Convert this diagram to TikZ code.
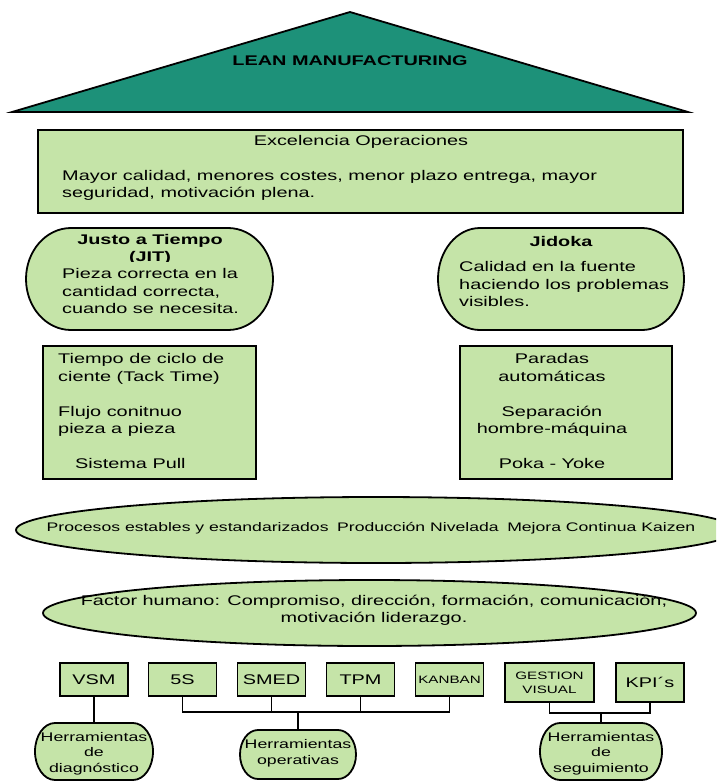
\documentclass[tikz,border=0pt]{standalone}
\usepackage{fontspec}
\setmainfont{Liberation Sans}[FakeStretch=1.42]
\usetikzlibrary{shapes.geometric}
\definecolor{leaf}{RGB}{197,228,168}
\definecolor{roofteal}{RGB}{29,145,121}
\newcommand{\pillnode}[6]{%
  \filldraw[shp] ({#2+#6},#3) -- ({#4-#6},#3)
    arc[start angle=-90,end angle=90,x radius=#6,y radius={(#5-#3)/2}]
    -- ({#2+#6},#5)
    arc[start angle=90,end angle=270,x radius=#6,y radius={(#5-#3)/2}] -- cycle;
  \node[minimum width={#4-#2}, minimum height={#5-#3}] (#1) at ({(#2+#4)/2},{(#3+#5)/2}) {};
}
\begin{document}
\begin{tikzpicture}[x=1pt,y=-1pt,
  every node/.style={inner sep=0pt},
  shp/.style={draw=black, line width=1.8pt, fill=leaf},
  conn/.style={draw=black, line width=1.8pt},
  t14/.style={font=\fontsize{14}{17.5}\selectfont},
  t14b/.style={font=\fontsize{14}{17.5}\selectfont\bfseries},
  t12/.style={font=\fontsize{12.5}{15.5}\selectfont, align=center},
  t10/.style={font=\fontsize{10.7}{14}\selectfont, align=center},
  gbox/.style={shp, minimum width=68, minimum height=33, font=\fontsize{14}{17}\selectfont}]
\clip (0,0) rectangle (716,782);
\fill[white] (0,0) rectangle (716,782);

% roof
\filldraw[fill=roofteal, draw=black, line width=1.8pt] (12,112) -- (350,12) -- (688,112) -- cycle;
\node[t14b] (lean) at (350,61) {LEAN MANUFACTURING};

% excellence box
\node[shp, minimum width=645, minimum height=83] (exc) at (360.5,171.5) {};
\node[t14] (exct) at (361,142) {Excelencia Operaciones};
\node[t14, align=left, anchor=west] (excb) at (62,185.5) {Mayor calidad, menores costes, menor plazo entrega, mayor\\seguridad, motivación plena.};

% pillars heads
\pillnode{jit}{26}{228}{273}{330}{45}
\pillnode{jid}{438}{228}{684}{330}{42}
\node[t14b] (jitt) at (150,241) {Justo a Tiempo};
\begin{scope}
\clip (26,228) rectangle (273,261.5);
\node[t14b] (jita) at (150,258) {(JIT)};
\end{scope}
\node[t14, align=left, anchor=west] (jitb) at (62,291) {Pieza correcta en la\\cantidad correcta,\\cuando se necesita.};
\node[t14b] (jidt) at (561,241) {Jidoka};
\node[t14, align=left, anchor=west] (jidb) at (459,284) {Calidad en la fuente\\haciendo los problemas\\visibles.};

% pillars bodies
\node[shp, minimum width=213, minimum height=133] (jitbox) at (149.5,412.5) {};
\node[shp, minimum width=212, minimum height=133] (jidbox) at (566,412.5) {};
\node[t14, align=left, anchor=west] (jitl) at (58,411) {Tiempo de ciclo de\\ciente (Tack Time)\\[17.5pt]Flujo conitnuo\\pieza a pieza\\[17.5pt]\hspace*{17pt}Sistema Pull};
\node[t14, align=center] (jidl) at (552,411) {Paradas\\automáticas\\[17.5pt]Separación\\hombre-máquina\\[17.5pt]Poka - Yoke};

% foundations
\node[shp, ellipse, minimum width=720, minimum height=66] (proc) at (376,530) {};
\node[font=\fontsize{12.4}{15}\selectfont] (proct) at (371,528) {Procesos estables y estandarizados\hspace{0.3em} Producción Nivelada\hspace{0.3em} Mejora Continua Kaizen};
\node[shp, ellipse, minimum width=653, minimum height=66] (fact) at (369.5,613) {};
\node[t14, align=center] (factt) at (374,610.5) {Factor humano: Compromiso, dirección, formación, comunicación,\\motivación liderazgo.};

% tools
\node[gbox] (vsm) at (94,679.5) {VSM};
\node[gbox] (s5) at (182.5,679.5) {5S};
\node[gbox] (smed) at (271.5,679.5) {SMED};
\node[gbox] (tpm) at (360.5,679.5) {TPM};
\node[gbox, font=\fontsize{10.7}{14}\selectfont] (kanban) at (449.5,679.5) {KANBAN};
\node[gbox, minimum width=89, minimum height=39, t10] (gv) at (549.5,682.5) {GESTION\\VISUAL};
\node[gbox, minimum height=39] (kpi) at (650,682.5) {KPI´s};

% tool families
\pillnode{diag}{35}{723}{153}{780}{20}
\pillnode{oper}{240}{730}{356}{779}{18}
\pillnode{seg}{540}{723}{662}{780}{20}
\node[t12] (diagt) at (94,753.5) {Herramientas\\de\\diagnóstico};
\node[t12] (opert) at (298,753.5) {Herramientas\\operativas};
\node[t12] (segt) at (601,753.5) {Herramientas\\de\\seguimiento};

% connectors
\coordinate (opj) at (298,712);
\coordinate (sgj) at (601,713);
\draw[conn] (vsm.south) -- (diag.north);
\draw[conn] (s5.south) |- (opj) -| (kanban.south);
\draw[conn] (smed.south) -- (smed.south |- opj);
\draw[conn] (tpm.south) -- (tpm.south |- opj);
\draw[conn] (opj) -- (oper.north);
\draw[conn] (gv.south) |- (sgj) -| (kpi.south);
\draw[conn] (sgj) -- (seg.north);
\end{tikzpicture}
\end{document}
